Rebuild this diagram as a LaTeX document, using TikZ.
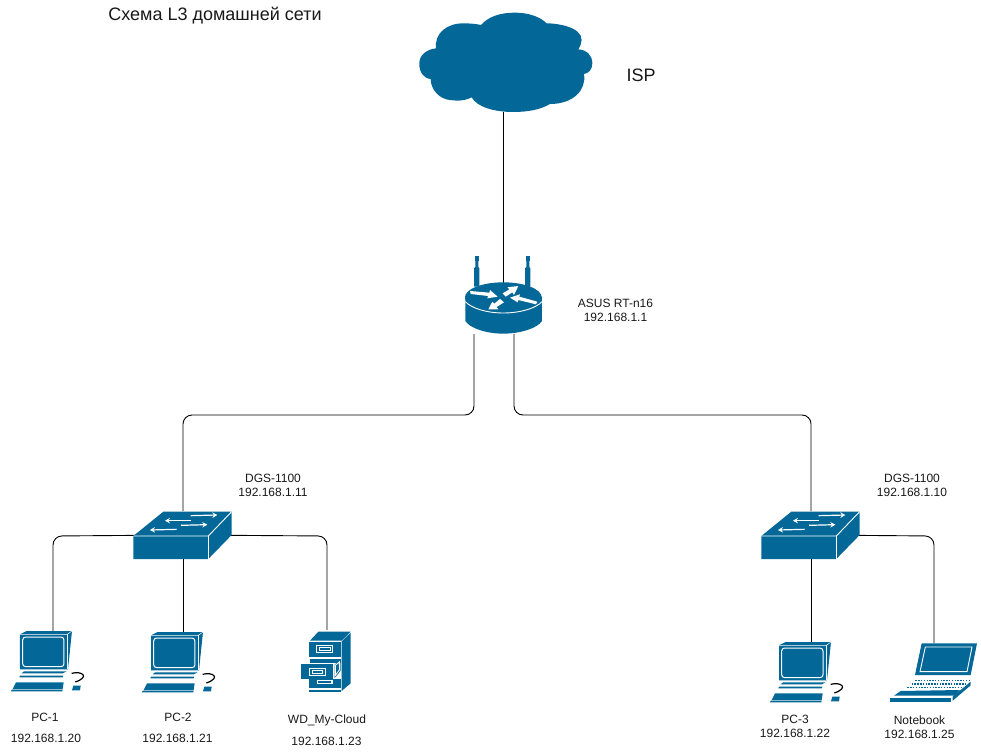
\documentclass[tikz,border=0pt]{standalone}
\usepackage{fontspec}
\setmainfont{Liberation Sans}
\usetikzlibrary{arrows.meta}
\definecolor{cisco}{HTML}{036897}
\tikzset{
  anchorbox/.style={inner sep=0pt,outer sep=0pt},
  link/.style={draw=black,line width=0.9pt,rounded corners=9pt},
  lab/.style={font=\fontsize{12}{14}\selectfont,align=center,inner sep=0pt,text=black!90},
  bigl/.style={font=\fontsize{18}{20}\selectfont,inner sep=0pt,text=black!90},
  wl/.style={draw=white,line width=0.9pt},
  sarrow/.style={draw=white,line width=1.2pt,-{Stealth[length=5pt,width=5.5pt]}},
}
\newcommand{\pcicon}[2]{%
\begin{scope}[shift={(#1,#2)},scale=0.3333]
  \fill[cisco] (60,43) -- (80,33) -- (216,33) -- (204,148) -- (60,148) -- cycle;
  \draw[white,line width=0.5pt] (60,43) -- (202,43) -- (216,33);
  \draw[white,line width=0.5pt] (202,43) -- (202,148);
  \draw[white,line width=1pt,rounded corners=3pt,fill=cisco] (68,51) rectangle (192,140);
  \fill[cisco] (72,154) -- (200,154) -- (188,160) -- (65,160) -- cycle;
  \fill[cisco] (60,167) -- (190,167) -- (188,172) -- (58,172) -- cycle;
  \fill[cisco] (48,187) -- (191,187) -- (188,207) -- (38,207) -- cycle;
  \fill[cisco] (35,209) -- (188,209) -- (187,214) -- (33,214) -- cycle;
  \fill[cisco] (220,197) -- (242,197) -- (240,211) -- (216,211) -- cycle;
  \draw[black,line width=1.2pt] (215,160) .. controls (245,152) and (272,170) .. (226,186);
\end{scope}}
\begin{document}
\begin{tikzpicture}[x=1pt,y=-1pt]
\useasboundingbox (0,0) rectangle (981,754);
\fill[white] (0,0) rectangle (981,754);
% anchor boxes
\node[anchorbox,minimum width=160pt,minimum height=100pt] (isp) at (497,62) {};
\node[anchorbox,minimum width=80pt,minimum height=52pt] (router) at (503,308) {};
\coordinate (rl) at (474,334);
\coordinate (rr) at (514,334);
\node[anchorbox,minimum width=99pt,minimum height=48pt] (swa) at (183,535) {};
\node[anchorbox,minimum width=99pt,minimum height=48pt] (swb) at (811,535) {};
\node[anchorbox,minimum width=60pt,minimum height=56pt] (pca) at (52,659) {};
\node[anchorbox,minimum width=60pt,minimum height=56pt] (pcb) at (183,660) {};
\node[anchorbox,minimum width=50pt,minimum height=62pt] (wd) at (327,661) {};
\node[anchorbox,minimum width=60pt,minimum height=56pt] (pcc) at (811,670) {};
\node[anchorbox,minimum width=86pt,minimum height=62pt] (nb) at (934,674) {};
% connectors
\draw[link] (isp.south -| 503,0) -- (503,283);
\draw[link] (rl) -- (474,415) -- (183,415) -- (swa.north);
\draw[link] (rr) -- (514,415) -- (811,415) -- (swb.north);
\draw[link] (swa.center) -- (53,536) -- (pca.north -| 53,0);
\draw[link] (swa.center) -- (pcb.north);
\draw[link] (swa.center) -- (327,536) -- (wd.north);
\draw[link] (swb.center) -- (pcc.north);
\draw[link] (swb.center) -- (934,536) -- (nb.north);
% cloud
\begin{scope}[shift={(400,0)},scale=0.3333]
\fill[cisco] (243,75) .. controls (265,50) and (300,38) .. (345,38)
 .. controls (385,38) and (420,50) .. (440,70)
 .. controls (470,70) and (545,80) .. (545,120)
 .. controls (545,130) and (540,140) .. (535,148)
 .. controls (560,150) and (577,165) .. (577,190)
 .. controls (577,210) and (565,220) .. (552,222)
 .. controls (560,270) and (520,312) .. (450,312)
 .. controls (420,330) and (380,336) .. (340,336)
 .. controls (280,336) and (230,320) .. (215,292)
 .. controls (190,305) and (165,302) .. (150,300)
 .. controls (120,298) and (92,270) .. (92,237)
 .. controls (70,235) and (57,215) .. (58,190)
 .. controls (58,165) and (80,148) .. (108,145)
 .. controls (103,100) and (140,70) .. (190,70)
 .. controls (210,70) and (230,72) .. (243,75) -- cycle;
\end{scope}
% router
\begin{scope}[shift={(450,245)},scale=0.3333]
\fill[cisco] (76,45) -- (85,45) -- (85,66) -- (88,70) -- (88,125) -- (72,125) -- (72,70) -- (76,66) -- cycle;
\fill[cisco] (74,33) rectangle (87,48);
\fill[cisco] (229,45) -- (238,45) -- (238,66) -- (241,70) -- (241,125) -- (225,125) -- (225,70) -- (229,66) -- cycle;
\fill[cisco] (227,33) rectangle (240,48);
\fill[cisco] (46,155) -- (46,228) .. controls (60,250) and (110,266) .. (160,266) .. controls (210,266) and (262,250) .. (276,228) -- (276,155) -- cycle;
\fill[cisco] (160,157) ellipse [x radius=115,y radius=45];
\draw[white,line width=0.9pt] (46,170) .. controls (65,190) and (110,204) .. (160,204) .. controls (210,204) and (258,190) .. (276,170);
\fill[white] (60,138) -- (118,143) -- (120,135) -- (143,155) -- (112,160) -- (114,153) -- (62,147) -- cycle;
\fill[white] (158,145) -- (178,133) -- (172,127) -- (205,123) -- (192,150) -- (187,142) -- (167,155) -- cycle;
\fill[white] (262,170) -- (208,155) -- (210,148) -- (180,158) -- (203,172) -- (205,165) -- (258,178) -- cycle;
\fill[white] (150,162) -- (162,172) -- (140,186) -- (145,193) -- (115,193) -- (127,170) -- (133,176) -- cycle;
\end{scope}
% switches
\foreach \ox in {125,753}{
\begin{scope}[shift={(\ox,500)},scale=0.3333]
\fill[cisco] (25,108) -- (115,35) -- (320,35) -- (320,105) -- (250,177) -- (25,177) -- cycle;
\draw[wl] (25,108) -- (250,108) -- (320,35);
\draw[wl] (250,108) -- (250,177);
\draw[sarrow] (197,47) -- (277,45);
\draw[sarrow] (198,62) -- (120,62);
\draw[sarrow] (168,76) -- (247,74);
\draw[sarrow] (155,88) -- (75,90);
\end{scope}}
% PCs
\pcicon{0}{620}
\pcicon{131}{621}
\pcicon{759}{631}
% cabinet
\begin{scope}[shift={(290,620)},scale=0.3333]
\fill[cisco] (60,62) -- (85,35) -- (182,35) -- (155,62) -- cycle;
\fill[cisco] (155,64) -- (182,38) -- (182,190) -- (155,213) -- cycle;
\fill[cisco] (58,65) rectangle (152,112);
\draw[white,line width=0.9pt] (80,75) rectangle (128,97);
\draw[white,line width=0.7pt] (88,81) rectangle (120,91);
\fill[cisco] (58,178) rectangle (152,205);
\fill[cisco] (58,209) rectangle (152,215);
\fill[white] (80,180) rectangle (128,192);
\fill[cisco] (85,182) rectangle (123,190);
\fill[cisco] (60,116) rectangle (152,128);
\fill[cisco] (33,132) rectangle (130,176);
\draw[white,line width=0.9pt] (58,145) rectangle (106,167);
\draw[white,line width=0.7pt] (66,151) rectangle (98,161);
\fill[cisco] (134,134) -- (152,118) -- (152,152) -- (134,174) -- cycle;
\draw[white,line width=0.9pt] (136,136) -- (148,126) -- (148,150) -- (136,166) -- cycle;
\fill[cisco] (139,141) -- (145,135) -- (145,149) -- (139,157) -- cycle;
\end{scope}
% notebook
\begin{scope}[shift={(880,630)},scale=0.3333]
\fill[cisco] (125,40) -- (291,40) -- (272,135) -- (105,135) -- cycle;
\draw[white,line width=0.9pt] (136,51) -- (276,51) -- (261,125) -- (120,125) -- cycle;
\foreach \yy/\xa/\xb in {152/106/268,162/95/258,172/82/248}{
  \draw[cisco,line width=1.1pt,dash pattern=on 1.5pt off 1.3pt] (\xa,\yy) -- (\xb,\yy);
}
\fill[cisco] (62,183) -- (240,180) -- (225,197) -- (42,197) -- cycle;
\fill[cisco] (30,205) rectangle (213,217);
\fill[cisco] (218,200) -- (272,155) -- (272,166) -- (218,212) -- cycle;
\end{scope}
% labels
\node[bigl] (title) at (215,16) {Схема L3 домашней сети};
\node[bigl] (isptext) at (641,75) {ISP};
\node[lab] (asus) at (615.5,310) {ASUS RT-n16\\192.168.1.1};
\node[lab] (dgsa) at (273,485.5) {DGS-1100\\192.168.1.11};
\node[lab] (dgsb) at (912,485.5) {DGS-1100\\192.168.1.10};
\node[lab] (pcan) at (45,717) {PC-1};
\node[lab] (pcai) at (46,738) {192.168.1.20};
\node[lab] (pcbn) at (178,717) {PC-2};
\node[lab] (pcbi) at (177.5,738) {192.168.1.21};
\node[lab] (wdn) at (327,720) {WD\_My-Cloud};
\node[lab] (wdi) at (326.5,741) {192.168.1.23};
\node[lab] (pccl) at (795,726) {PC-3\\192.168.1.22};
\node[lab] (nbl) at (919.5,727) {Notebook\\192.168.1.25};
\end{tikzpicture}
\end{document}
